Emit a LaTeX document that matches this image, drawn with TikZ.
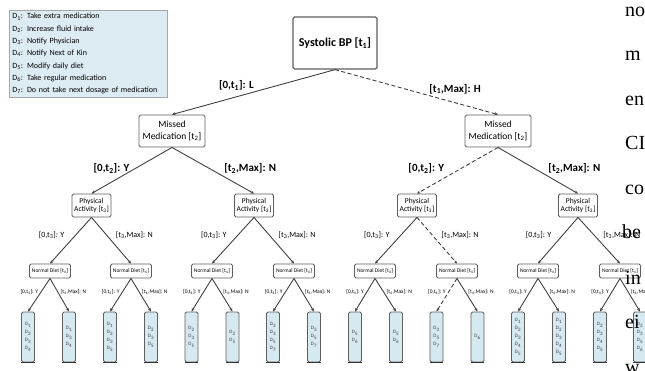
\documentclass[tikz,border=0pt]{standalone}
\usepackage{fontspec}
\setmainfont{Carlito}
\newfontfamily\bodyfont{Liberation Serif}
\usepackage{xcolor}
\usetikzlibrary{arrows.meta, positioning}

\definecolor{leafblue}{RGB}{214,232,240}
\definecolor{legendblue}{RGB}{221,235,243}
\definecolor{boxline}{RGB}{95,95,95}
\newcommand{\dc}[1]{D\textsubscript{#1}}

\begin{document}
\begin{tikzpicture}[
  x=1pt, y=-1pt,
  box/.style={draw=boxline, line width=0.9pt, rounded corners=1.5pt,
              fill=white, align=center, inner sep=1pt},
  rootbox/.style={box, line width=1.3pt, minimum width=84pt, minimum height=52pt,
                  font=\bfseries\fontsize{12}{14}\selectfont},
  mmbox/.style={box, minimum width=66pt, minimum height=32pt,
                font=\fontsize{9.5}{12}\selectfont},
  pabox/.style={box, minimum width=39pt, minimum height=23pt,
                font=\fontsize{7.5}{8.5}\selectfont},
  ndbox/.style={box, minimum width=41pt, minimum height=14pt,
                font=\fontsize{5.5}{6}\selectfont},
  leafbox/.style={box, fill=leafblue, minimum width=13pt, minimum height=50pt,
                  font=\fontsize{5}{8}\selectfont, text=black!75,
                  append after command={(\tikzlastnode.south west)
                    edge[draw=black!80, line width=1.6pt] (\tikzlastnode.south east)}},
  legend/.style={draw=black!35, fill=legendblue, line width=0.8pt, anchor=north west,
                 align=left, inner sep=3pt, text width=152pt,
                 font=\fontsize{8}{12.3}\selectfont},
  arr/.style={-{Stealth[length=3.5pt, width=3pt]}, draw=black!75, line width=0.9pt},
  dasharr/.style={arr, dash pattern=on 4pt off 2.5pt},
  lblA/.style={font=\bfseries\fontsize{11}{12}\selectfont, inner sep=1pt},
  lblB/.style={font=\bfseries\fontsize{11}{12}\selectfont, inner sep=1pt},
  lblC/.style={font=\fontsize{8}{9}\selectfont, inner sep=1pt},
  lblD/.style={font=\fontsize{5.5}{6}\selectfont, inner sep=0.5pt},
  pagetext/.style={font=\bodyfont\fontsize{20}{24}\selectfont, anchor=base west, inner sep=0pt}
]
  \useasboundingbox (0,0) rectangle (645,371);
  \clip (0,0) rectangle (645,371);

  % legend
  \node[legend] (key) at (9,10) {\dc{1}: Take extra medication\\
    \dc{2}: Increase fluid intake\\
    \dc{3}: Notify Physician\\
    \dc{4}: Notify Next of Kin\\
    \dc{5}: Modify daily diet\\
    \dc{6}: Take regular medication\\
    \dc{7}: Do not take next dosage of medication};

  % tree
  \node[rootbox] (root) at (335,43) {Systolic BP [t\textsubscript{1}]};
  \node[mmbox] (mm1) at (172,131) {Missed\\Medication [t\textsubscript{2}]};
  \node[mmbox] (mm2) at (498,131) {Missed\\Medication [t\textsubscript{2}]};

  \node[pabox] (pa1) at (91.5,205.5) {Physical\\Activity [t\textsubscript{3}]};
  \node[pabox] (pa2) at (254,205.5) {Physical\\Activity [t\textsubscript{3}]};
  \node[pabox] (pa3) at (417,205.5) {Physical\\Activity [t\textsubscript{3}]};
  \node[pabox] (pa4) at (578,205.5) {Physical\\Activity [t\textsubscript{3}]};

  \node[ndbox] (nd1) at (50,271) {Normal Diet [t\textsubscript{4}]};
  \node[ndbox] (nd2) at (131,271) {Normal Diet [t\textsubscript{4}]};
  \node[ndbox] (nd3) at (212,271) {Normal Diet [t\textsubscript{4}]};
  \node[ndbox] (nd4) at (294,271) {Normal Diet [t\textsubscript{4}]};
  \node[ndbox] (nd5) at (375,271) {Normal Diet [t\textsubscript{4}]};
  \node[ndbox] (nd6) at (457,271) {Normal Diet [t\textsubscript{4}]};
  \node[ndbox] (nd7) at (538,271) {Normal Diet [t\textsubscript{4}]};
  \node[ndbox] (nd8) at (620,271) {Normal Diet [t\textsubscript{4}]};

  \node[leafbox] (l1) at (28,337) {\dc{1}\\\dc{2}\\\dc{3}\\\dc{4}};
  \node[leafbox] (l2) at (69,337) {\dc{1}\\\dc{3}\\\dc{4}};
  \node[leafbox] (l3) at (110,337) {\dc{1}\\\dc{2}\\\dc{3}\\\dc{5}};
  \node[leafbox] (l4) at (151,337) {\dc{2}\\\dc{3}\\\dc{5}};
  \node[leafbox] (l5) at (191.5,337) {\dc{2}\\\dc{3}\\\dc{5}};
  \node[leafbox] (l6) at (232.5,337) {\dc{2}\\\dc{5}};
  \node[leafbox] (l7) at (273,337) {\dc{2}\\\dc{3}\\\dc{5}\\\dc{7}};
  \node[leafbox] (l8) at (314,337) {\dc{3}\\\dc{5}\\\dc{7}};
  \node[leafbox] (l9) at (355,337) {\dc{5}\\\dc{6}};
  \node[leafbox] (l10) at (396,337) {\dc{5}\\\dc{6}};
  \node[leafbox] (l11) at (436.5,337) {\dc{3}\\\dc{5}\\\dc{7}};
  \node[leafbox] (l12) at (477.5,337) {\dc{6}};
  \node[leafbox] (l13) at (518,337) {\dc{1}\\\dc{2}\\\dc{3}\\\dc{4}\\\dc{5}};
  \node[leafbox] (l14) at (559,337) {\dc{1}\\\dc{2}\\\dc{3}\\\dc{4}\\\dc{5}};
  \node[leafbox] (l15) at (600,337) {\dc{2}\\\dc{3}\\\dc{4}\\\dc{5}};
  \node[leafbox] (l16) at (640,337) {\dc{2}\\\dc{3}\\\dc{5}\\\dc{6}};

  % level 1
  \draw[arr] (root.south) -- (mm1.north)
    node[lblA, pos=0.49, anchor=south east] {[0,t\textsubscript{1}]: L};
  \draw[dasharr] (root.south) -- (mm2.north)
    node[lblA, pos=0.57, anchor=south west] {[t\textsubscript{1},Max]: H};

  % level 2
  \draw[arr] (mm1.south) -- (pa1.north)
    node[lblB, pos=0.45, left=5pt] {[0,t\textsubscript{2}]: Y};
  \draw[arr] (mm1.south) -- (pa2.north)
    node[lblB, pos=0.45, right=14pt] {[t\textsubscript{2},Max]: N};
  \draw[dasharr] (mm2.south) -- (pa3.north)
    node[lblB, pos=0.45, left=16pt] {[0,t\textsubscript{2}]: Y};
  \draw[arr] (mm2.south) -- (pa4.north)
    node[lblB, pos=0.45, right=13pt] {[t\textsubscript{2},Max]: N};

  % level 3
  \draw[arr] (pa1.south) -- (nd1.north) node[lblC, pos=0.38, left=10pt] {[0,t\textsubscript{3}]: Y};
  \draw[arr] (pa1.south) -- (nd2.north) node[lblC, pos=0.38, right=8pt] {[t\textsubscript{3},Max]: N};
  \draw[arr] (pa2.south) -- (nd3.north) node[lblC, pos=0.38, left=10pt] {[0,t\textsubscript{3}]: Y};
  \draw[arr] (pa2.south) -- (nd4.north) node[lblC, pos=0.38, right=8pt] {[t\textsubscript{3},Max]: N};
  \draw[arr] (pa3.south) -- (nd5.north) node[lblC, pos=0.38, left=10pt] {[0,t\textsubscript{3}]: Y};
  \draw[dasharr] (pa3.south) -- (nd6.north) node[lblC, pos=0.38, right=8pt] {[t\textsubscript{3},Max]: N};
  \draw[arr] (pa4.south) -- (nd7.north) node[lblC, pos=0.38, left=10pt] {[0,t\textsubscript{3}]: Y};
  \draw[arr] (pa4.south) -- (nd8.north) node[lblC, pos=0.38, right=8pt] {[t\textsubscript{3},Max]: N};

  % level 4
  \draw[arr] (nd1.south) -- (l1.north) node[lblD, pos=0.41, left=2pt] {[0,t\textsubscript{4}]: Y};
  \draw[arr] (nd1.south) -- (l2.north) node[lblD, pos=0.41, right=2pt] {[t\textsubscript{4},Max]: N};
  \draw[arr] (nd2.south) -- (l3.north) node[lblD, pos=0.41, left=2pt] {[0,t\textsubscript{4}]: Y};
  \draw[arr] (nd2.south) -- (l4.north) node[lblD, pos=0.41, right=2pt] {[t\textsubscript{4},Max]: N};
  \draw[arr] (nd3.south) -- (l5.north) node[lblD, pos=0.41, left=2pt] {[0,t\textsubscript{4}]: Y};
  \draw[arr] (nd3.south) -- (l6.north) node[lblD, pos=0.41, right=2pt] {[t\textsubscript{4},Max]: N};
  \draw[arr] (nd4.south) -- (l7.north) node[lblD, pos=0.41, left=2pt] {[0,t\textsubscript{4}]: Y};
  \draw[arr] (nd4.south) -- (l8.north) node[lblD, pos=0.41, right=2pt] {[t\textsubscript{4},Max]: N};
  \draw[arr] (nd5.south) -- (l9.north) node[lblD, pos=0.41, left=2pt] {[0,t\textsubscript{4}]: Y};
  \draw[arr] (nd5.south) -- (l10.north) node[lblD, pos=0.41, right=2pt] {[t\textsubscript{4},Max]: N};
  \draw[dasharr] (nd6.south) -- (l11.north) node[lblD, pos=0.41, left=2pt] {[0,t\textsubscript{4}]: Y};
  \draw[arr] (nd6.south) -- (l12.north) node[lblD, pos=0.41, right=2pt] {[t\textsubscript{4},Max]: N};
  \draw[arr] (nd7.south) -- (l13.north) node[lblD, pos=0.41, left=2pt] {[0,t\textsubscript{4}]: Y};
  \draw[arr] (nd7.south) -- (l14.north) node[lblD, pos=0.41, right=2pt] {[t\textsubscript{4},Max]: N};
  \draw[arr] (nd8.south) -- (l15.north) node[lblD, pos=0.41, left=2pt] {[0,t\textsubscript{4}]: Y};
  \draw[arr] (nd8.south) -- (l16.north) node[lblD, pos=0.41, right=2pt] {[t\textsubscript{4},Max]: N};

  % page text at the right edge
  \node[pagetext] (p1) at (625,17) {no};
  \node[pagetext] (p2) at (625,61) {m};
  \node[pagetext] (p3) at (625,106) {en};
  \node[pagetext] (p4) at (625,150) {CI};
  \node[pagetext] (p5) at (625,195) {co};
  \node[pagetext] (p6) at (622,239) {be};
  \node[pagetext] (p7) at (625,284) {in};
  \node[pagetext] (p8) at (625,328) {ei};
  \node[pagetext] (p9) at (625,373) {w};
\end{tikzpicture}
\end{document}
